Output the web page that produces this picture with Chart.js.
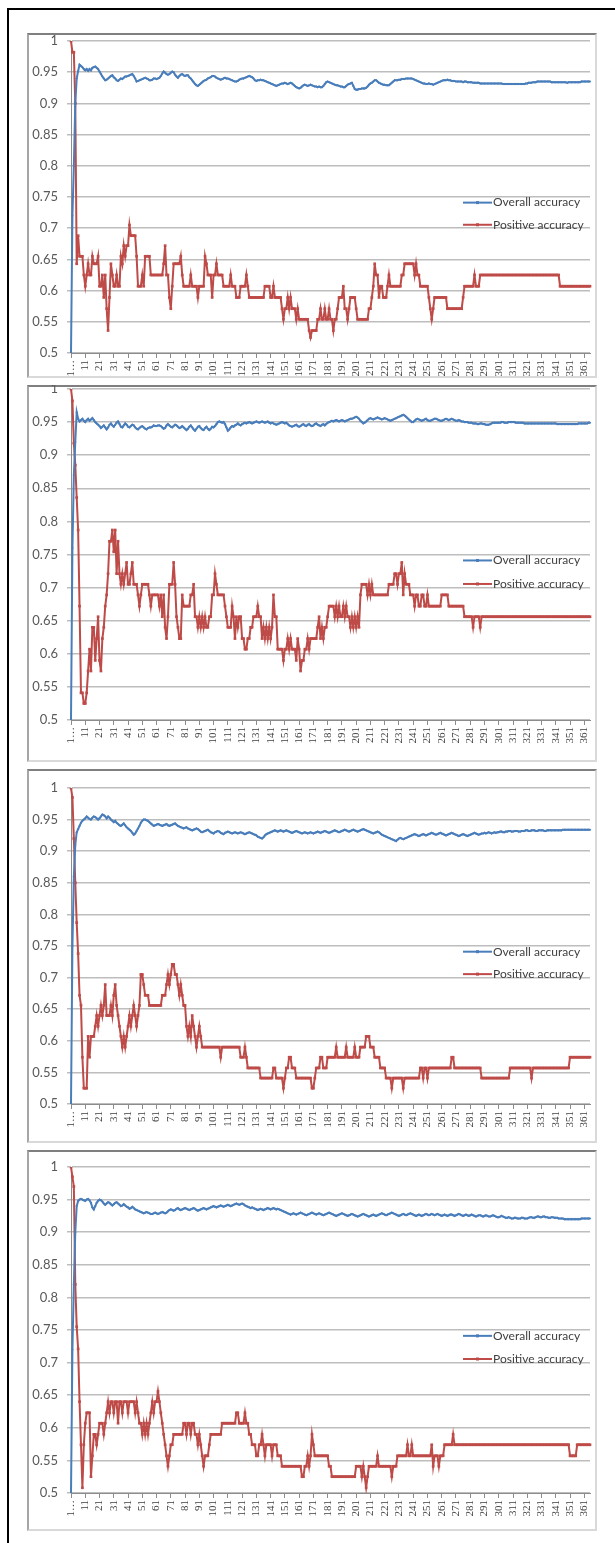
<!DOCTYPE html>
<html>
<head>
<meta charset="utf-8">
<script src="https://cdn.jsdelivr.net/npm/chart.js@4.4.1/dist/chart.umd.min.js"></script>
<style>
  html, body { margin: 0; padding: 0; background: #fff; }
  body { width: 615px; height: 1543px; position: relative; overflow: hidden; }
  .frame { position: absolute; left: 7px; top: 8px; width: 620px; height: 1560px;
           border-top: 2px solid #000; border-left: 2px solid #000; }
  .panel { position: absolute; left: 27px; width: 570px; box-sizing: border-box;
           border: 2px solid #d9d9d9; border-top-color: #7f7f7f; border-left-color: #a6a6a6; background: #fff; }
  .panel canvas { display: block; position: absolute; left: 0; top: -2px; }
</style>
</head>
<body>
<div class="frame"></div>
<div class="panel" id="p1"><canvas id="c1"></canvas></div>
<div class="panel" id="p2"><canvas id="c2"></canvas></div>
<div class="panel" id="p3"><canvas id="c3"></canvas></div>
<div class="panel" id="p4"><canvas id="c4"></canvas></div>
<script>
// x categories: 1..365, the first one shows truncated like in the original
const categories = Array.from({length: 365}, (_, i) => i === 0 ? '1…' : String(i + 1));
const yTickValues = [0.5, 0.55, 0.6, 0.65, 0.7, 0.75, 0.8, 0.85, 0.9, 0.95, 1];
const seriesNames = ['Overall accuracy', 'Positive accuracy'];

const overall1 = [
.5,.72,.8,.9,.94,.952,.962,.96,.958,.955,
.953,.955,.952,.955,.953,.957,.958,.959,.957,.955,
.951,.947,.943,.94,.937,.938,.94,.942,.944,.945,
.942,.94,.937,.936,.938,.94,.939,.941,.943,.943,
.944,.945,.946,.947,.944,.94,.935,.936,.937,.938,
.939,.94,.941,.94,.939,.937,.937,.938,.94,.94,
.939,.94,.941,.944,.948,.951,.949,.947,.946,.947,
.949,.951,.95,.946,.943,.941,.944,.946,.947,.945,
.944,.945,.945,.942,.94,.937,.934,.931,.929,.928,
.93,.932,.934,.936,.937,.938,.94,.941,.942,.944,
.944,.943,.941,.94,.939,.938,.939,.94,.941,.94,
.94,.939,.938,.937,.936,.935,.935,.936,.938,.939,
.94,.94,.941,.942,.943,.944,.943,.942,.94,.937,
.936,.937,.937,.938,.937,.937,.936,.935,.934,.933,
.932,.931,.93,.929,.928,.929,.93,.931,.932,.932,
.933,.932,.931,.932,.933,.932,.93,.928,.926,.925,
.924,.925,.927,.929,.93,.929,.928,.929,.93,.929,
.928,.927,.927,.926,.927,.926,.926,.928,.931,.934,
.935,.934,.933,.932,.931,.93,.929,.929,.928,.927,
.927,.926,.926,.928,.93,.931,.932,.933,.928,.923,
.922,.922,.923,.923,.924,.924,.924,.925,.927,.93,
.932,.933,.935,.937,.937,.935,.933,.932,.931,.93,
.93,.929,.929,.929,.931,.933,.935,.937,.937,.937,
.938,.938,.939,.939,.939,.94,.94,.94,.94,.94,
.939,.938,.937,.936,.935,.934,.933,.932,.932,.931,
.931,.932,.931,.931,.93,.931,.932,.933,.934,.935,
.936,.937,.937,.937,.938,.937,.937,.936,.936,.936,
.935,.935,.935,.935,.935,.934,.935,.935,.934,.934,
.934,.934,.933,.933,.933,.933,.933,.932,.932,.932,
.932,.932,.932,.932,.932,.932,.932,.932,.932,.932,
.932,.932,.932,.931,.931,.931,.931,.931,.931,.931,
.931,.931,.931,.931,.931,.931,.931,.931,.931,.932,
.932,.933,.933,.933,.934,.934,.934,.935,.935,.935,
.935,.935,.935,.935,.935,.935,.935,.934,.934,.934,
.934,.934,.934,.934,.934,.934,.934,.934,.933,.934,
.934,.934,.934,.934,.934,.934,.934,.934,.935,.935,
.935,.935,.935,.935,.935];
const positive1 = [
1,.982,.982,.9,.643,.688,.655,.655,.655,.625,
.607,.625,.643,.625,.625,.655,.643,.643,.643,.655,
.607,.607,.625,.589,.625,.571,.536,.589,.643,.625,
.607,.607,.625,.607,.607,.655,.643,.672,.655,.672,
.672,.705,.688,.688,.688,.688,.655,.607,.607,.607,
.625,.607,.655,.655,.655,.655,.625,.625,.625,.625,
.625,.625,.625,.625,.625,.643,.672,.625,.625,.589,
.571,.607,.643,.643,.643,.643,.643,.655,.625,.607,
.607,.607,.607,.607,.625,.607,.607,.607,.607,.589,
.607,.607,.607,.607,.655,.643,.625,.625,.625,.589,
.625,.625,.643,.625,.625,.625,.625,.607,.607,.607,
.607,.607,.625,.607,.607,.607,.589,.589,.589,.607,
.607,.607,.607,.625,.607,.589,.589,.589,.589,.589,
.589,.589,.589,.589,.589,.589,.607,.607,.607,.607,
.589,.589,.607,.589,.589,.589,.589,.589,.571,.554,
.571,.571,.589,.571,.589,.571,.571,.571,.554,.571,
.554,.554,.554,.554,.554,.554,.554,.536,.525,.536,
.536,.536,.536,.554,.554,.571,.554,.554,.571,.554,
.554,.571,.554,.554,.536,.554,.554,.571,.589,.589,
.589,.607,.571,.571,.554,.571,.589,.589,.589,.589,
.571,.554,.554,.554,.554,.554,.554,.554,.554,.571,
.571,.589,.607,.643,.625,.625,.589,.607,.607,.589,
.589,.589,.607,.625,.607,.607,.607,.607,.607,.607,
.607,.607,.625,.625,.643,.643,.643,.643,.643,.643,
.643,.625,.643,.625,.625,.607,.607,.607,.607,.607,
.607,.589,.571,.554,.571,.589,.589,.589,.589,.589,
.589,.589,.589,.589,.571,.571,.571,.571,.571,.571,
.571,.571,.571,.571,.571,.589,.607,.607,.607,.607,
.607,.607,.607,.625,.607,.607,.607,.625,.625,.625,
.625,.625,.625,.625,.625,.625,.625,.625,.625,.625,
.625,.625,.625,.625,.625,.625,.625,.625,.625,.625,
.625,.625,.625,.625,.625,.625,.625,.625,.625,.625,
.625,.625,.625,.625,.625,.625,.625,.625,.625,.625,
.625,.625,.625,.625,.625,.625,.625,.625,.625,.625,
.625,.625,.625,.607,.607,.607,.607,.607,.607,.607,
.607,.607,.607,.607,.607,.607,.607,.607,.607,.607,
.607,.607,.607,.607,.607];

const overall2 = [
.5,.76,.87,.92,.965,.955,.951,.953,.955,.952,
.95,.953,.955,.952,.954,.956,.953,.95,.948,.946,
.944,.941,.943,.945,.942,.939,.942,.946,.948,.945,
.943,.946,.949,.951,.947,.943,.942,.945,.948,.946,
.943,.942,.944,.946,.945,.942,.94,.939,.941,.943,
.944,.942,.94,.939,.941,.942,.942,.943,.945,.944,
.944,.945,.945,.944,.942,.94,.941,.945,.947,.945,
.943,.942,.944,.946,.945,.943,.941,.942,.944,.942,
.94,.938,.94,.943,.945,.942,.939,.937,.94,.943,
.944,.941,.939,.938,.941,.943,.94,.938,.94,.943,
.942,.944,.947,.95,.951,.95,.949,.95,.947,.942,
.937,.939,.942,.944,.943,.945,.946,.948,.946,.945,
.947,.948,.949,.948,.949,.95,.949,.948,.949,.95,
.951,.95,.949,.95,.951,.95,.949,.95,.951,.949,
.948,.949,.948,.947,.946,.947,.948,.949,.95,.949,
.948,.949,.947,.945,.944,.943,.944,.945,.946,.944,
.943,.944,.946,.947,.945,.944,.946,.947,.945,.944,
.945,.947,.948,.946,.945,.944,.946,.947,.945,.947,
.949,.95,.951,.952,.951,.952,.953,.952,.951,.952,
.953,.952,.951,.952,.953,.954,.955,.955,.956,.957,
.958,.957,.955,.952,.95,.948,.949,.951,.953,.955,
.956,.955,.954,.955,.956,.957,.956,.955,.954,.955,
.956,.955,.954,.953,.952,.953,.954,.955,.956,.957,
.958,.959,.96,.961,.96,.958,.956,.954,.952,.95,
.95,.952,.954,.955,.954,.953,.952,.953,.954,.955,
.953,.952,.952,.953,.954,.955,.955,.954,.953,.952,
.952,.953,.954,.955,.954,.953,.954,.955,.954,.953,
.952,.952,.953,.952,.951,.951,.95,.95,.95,.949,
.949,.949,.948,.948,.948,.947,.947,.948,.948,.947,
.947,.946,.946,.946,.947,.948,.949,.949,.949,.949,
.949,.949,.95,.95,.949,.949,.949,.95,.95,.95,
.95,.95,.949,.949,.949,.949,.949,.949,.948,.948,
.948,.948,.948,.948,.948,.948,.948,.948,.948,.948,
.948,.948,.948,.948,.948,.948,.948,.948,.948,.948,
.948,.947,.947,.947,.947,.947,.947,.947,.947,.947,
.947,.947,.947,.947,.947,.947,.948,.948,.948,.948,
.948,.948,.948,.949,.949];
const positive2 = [
1,.982,.918,.885,.836,.787,.672,.541,.541,.525,
.525,.541,.574,.607,.574,.64,.64,.59,.623,.656,
.59,.574,.623,.64,.672,.689,.721,.77,.77,.787,
.754,.787,.721,.77,.721,.705,.721,.705,.721,.738,
.705,.705,.721,.738,.705,.705,.705,.689,.672,.689,
.705,.705,.705,.705,.705,.689,.672,.689,.689,.689,
.689,.689,.672,.689,.656,.689,.64,.623,.656,.705,
.705,.705,.738,.705,.656,.64,.623,.623,.689,.672,
.672,.672,.672,.672,.689,.689,.705,.656,.656,.64,
.656,.64,.656,.64,.656,.64,.64,.656,.656,.689,
.689,.721,.705,.689,.689,.689,.689,.689,.672,.656,
.64,.64,.64,.672,.656,.623,.656,.64,.656,.656,
.623,.623,.607,.607,.623,.623,.64,.64,.656,.656,
.656,.672,.656,.656,.623,.64,.623,.64,.623,.64,
.623,.64,.689,.656,.656,.607,.607,.607,.607,.59,
.607,.607,.623,.607,.623,.607,.607,.607,.59,.623,
.607,.574,.59,.59,.607,.607,.623,.607,.623,.623,
.623,.623,.623,.64,.656,.623,.64,.623,.64,.64,
.656,.672,.672,.672,.672,.656,.672,.656,.672,.656,
.656,.672,.656,.672,.656,.656,.64,.656,.64,.656,
.64,.656,.64,.689,.705,.705,.705,.705,.689,.705,
.689,.705,.689,.689,.689,.689,.689,.689,.689,.689,
.689,.689,.689,.705,.705,.705,.705,.721,.721,.705,
.721,.721,.738,.689,.721,.705,.705,.705,.689,.689,
.689,.672,.689,.689,.672,.672,.689,.689,.672,.672,
.689,.672,.672,.672,.672,.672,.672,.672,.672,.672,
.689,.689,.689,.689,.689,.672,.672,.672,.672,.672,
.672,.672,.672,.672,.672,.672,.656,.656,.656,.656,
.656,.656,.64,.656,.656,.656,.656,.64,.656,.656,
.656,.656,.656,.656,.656,.656,.656,.656,.656,.656,
.656,.656,.656,.656,.656,.656,.656,.656,.656,.656,
.656,.656,.656,.656,.656,.656,.656,.656,.656,.656,
.656,.656,.656,.656,.656,.656,.656,.656,.656,.656,
.656,.656,.656,.656,.656,.656,.656,.656,.656,.656,
.656,.656,.656,.656,.656,.656,.656,.656,.656,.656,
.656,.656,.656,.656,.656,.656,.656,.656,.656,.656,
.656,.656,.656,.656,.656];

const overall3 = [
.5,.75,.86,.91,.93,.935,.94,.945,.948,.95,
.952,.955,.953,.951,.95,.953,.955,.954,.952,.95,
.952,.955,.958,.957,.955,.952,.955,.953,.95,.948,
.946,.948,.945,.943,.941,.94,.942,.944,.941,.938,
.936,.934,.932,.929,.926,.928,.932,.936,.94,.945,
.948,.95,.95,.949,.948,.946,.944,.942,.94,.941,
.942,.943,.942,.941,.94,.941,.942,.943,.941,.94,
.941,.942,.943,.944,.942,.94,.939,.938,.937,.936,
.937,.938,.936,.935,.934,.933,.934,.935,.936,.935,
.933,.931,.93,.931,.932,.933,.934,.932,.93,.929,
.928,.93,.931,.932,.931,.929,.928,.927,.929,.93,
.931,.93,.929,.928,.929,.93,.929,.928,.929,.93,
.929,.928,.927,.928,.929,.93,.929,.928,.927,.926,
.925,.923,.922,.921,.92,.922,.925,.927,.928,.929,
.93,.931,.932,.933,.932,.931,.932,.933,.932,.931,
.932,.933,.932,.931,.93,.929,.93,.931,.932,.931,
.93,.929,.928,.929,.93,.929,.928,.929,.93,.929,
.928,.929,.93,.931,.93,.929,.93,.931,.932,.931,
.93,.929,.93,.931,.932,.933,.932,.931,.93,.931,
.932,.933,.934,.933,.932,.931,.932,.933,.934,.933,
.932,.931,.932,.933,.934,.935,.934,.933,.932,.931,
.93,.929,.928,.929,.93,.931,.93,.928,.926,.925,
.924,.923,.922,.921,.92,.919,.918,.917,.916,.918,
.92,.921,.92,.919,.92,.921,.922,.923,.924,.925,
.926,.927,.926,.925,.924,.925,.926,.927,.926,.925,
.926,.927,.928,.929,.928,.927,.926,.927,.928,.929,
.928,.927,.926,.925,.926,.927,.928,.929,.928,.927,
.926,.925,.924,.925,.926,.927,.926,.925,.924,.925,
.926,.927,.928,.929,.928,.927,.926,.927,.928,.928,
.929,.928,.929,.93,.929,.928,.929,.93,.929,.93,
.93,.931,.931,.93,.93,.931,.931,.932,.932,.931,
.931,.932,.932,.932,.931,.931,.932,.932,.932,.933,
.933,.932,.932,.933,.933,.933,.932,.932,.933,.933,
.933,.933,.932,.932,.933,.933,.933,.933,.933,.933,
.933,.933,.933,.933,.933,.934,.934,.934,.934,.934,
.934,.934,.934,.934,.934,.934,.934,.934,.934,.934,
.934,.934,.934,.934,.934];
const positive3 = [
1,.985,.92,.85,.787,.738,.672,.656,.574,.525,
.525,.525,.607,.574,.607,.607,.607,.623,.64,.623,
.64,.656,.64,.656,.689,.64,.64,.64,.656,.64,
.672,.689,.656,.64,.623,.607,.59,.607,.59,.607,
.623,.64,.623,.64,.656,.64,.623,.64,.656,.705,
.705,.689,.672,.672,.672,.656,.656,.656,.656,.656,
.656,.656,.656,.656,.672,.672,.672,.689,.705,.689,
.705,.721,.721,.705,.705,.689,.672,.689,.672,.656,
.656,.623,.607,.623,.607,.64,.623,.607,.59,.607,
.623,.607,.59,.59,.59,.59,.59,.59,.59,.59,
.59,.59,.59,.59,.59,.574,.59,.59,.59,.59,
.59,.59,.59,.59,.59,.59,.59,.59,.59,.574,
.574,.574,.59,.574,.557,.557,.557,.557,.557,.557,
.557,.557,.557,.541,.541,.541,.541,.541,.541,.541,
.541,.541,.557,.557,.541,.541,.541,.541,.541,.525,
.541,.557,.557,.574,.574,.557,.557,.557,.541,.541,
.541,.541,.541,.541,.541,.541,.541,.541,.541,.525,
.525,.541,.557,.557,.557,.574,.574,.557,.557,.557,
.574,.574,.574,.574,.574,.574,.59,.574,.574,.574,
.574,.574,.574,.59,.574,.574,.574,.574,.574,.59,
.574,.574,.574,.59,.59,.59,.59,.607,.607,.607,
.59,.59,.59,.574,.574,.574,.574,.557,.557,.557,
.557,.541,.541,.541,.541,.525,.541,.541,.541,.541,
.541,.541,.541,.525,.541,.541,.541,.541,.541,.541,
.541,.541,.541,.541,.541,.557,.557,.541,.557,.557,
.541,.557,.557,.557,.557,.557,.557,.557,.557,.557,
.557,.557,.557,.557,.557,.557,.557,.574,.574,.557,
.557,.557,.557,.557,.557,.557,.557,.557,.557,.557,
.557,.557,.557,.557,.557,.557,.557,.557,.541,.541,
.541,.541,.541,.541,.541,.541,.541,.541,.541,.541,
.541,.541,.541,.541,.541,.541,.541,.541,.557,.557,
.557,.557,.557,.557,.557,.557,.557,.557,.557,.557,
.557,.557,.557,.541,.557,.557,.557,.557,.557,.557,
.557,.557,.557,.557,.557,.557,.557,.557,.557,.557,
.557,.557,.557,.557,.557,.557,.557,.557,.557,.557,
.574,.574,.574,.574,.574,.574,.574,.574,.574,.574,
.574,.574,.574,.574,.574];

const overall4 = [
.5,.72,.82,.9,.94,.948,.95,.951,.95,.949,
.948,.95,.951,.949,.945,.938,.935,.94,.945,.948,
.95,.949,.947,.944,.942,.944,.946,.945,.943,.941,
.943,.945,.946,.944,.942,.94,.941,.943,.941,.939,
.938,.936,.937,.939,.937,.935,.934,.933,.932,.931,
.93,.929,.93,.931,.93,.929,.928,.928,.929,.93,
.929,.928,.929,.93,.931,.93,.929,.93,.932,.934,
.935,.934,.933,.934,.936,.937,.935,.934,.935,.936,
.937,.936,.935,.934,.935,.936,.937,.936,.934,.933,
.934,.935,.936,.937,.936,.935,.936,.937,.938,.939,
.94,.939,.938,.939,.94,.941,.94,.939,.94,.941,
.942,.941,.94,.941,.942,.943,.944,.943,.942,.943,
.944,.943,.941,.94,.939,.938,.937,.938,.937,.936,
.935,.934,.935,.936,.935,.934,.935,.936,.937,.936,
.935,.936,.937,.936,.935,.936,.935,.934,.933,.932,
.931,.93,.929,.928,.927,.928,.929,.928,.927,.928,
.929,.93,.929,.928,.927,.926,.927,.928,.929,.93,
.929,.928,.927,.928,.929,.928,.927,.926,.927,.928,
.929,.93,.929,.928,.927,.926,.925,.926,.927,.928,
.929,.928,.927,.926,.925,.926,.927,.928,.927,.926,
.925,.924,.925,.926,.927,.928,.927,.926,.925,.924,
.925,.926,.927,.926,.925,.926,.927,.928,.929,.928,
.927,.926,.927,.928,.929,.93,.929,.928,.927,.926,
.925,.926,.927,.928,.927,.926,.927,.928,.929,.928,
.927,.926,.925,.926,.927,.926,.925,.926,.927,.928,
.927,.926,.927,.928,.927,.926,.927,.928,.927,.926,
.925,.926,.927,.926,.925,.926,.927,.927,.926,.925,
.926,.927,.928,.927,.926,.925,.926,.927,.926,.925,
.926,.927,.926,.925,.924,.925,.926,.926,.925,.924,
.925,.926,.925,.924,.924,.925,.926,.925,.924,.923,
.923,.924,.925,.924,.923,.922,.922,.923,.922,.921,
.921,.922,.922,.921,.921,.921,.922,.922,.921,.921,
.921,.922,.923,.923,.922,.922,.923,.924,.924,.923,
.923,.924,.924,.923,.923,.922,.922,.923,.923,.922,
.922,.922,.921,.921,.921,.921,.92,.92,.92,.92,
.92,.92,.92,.92,.92,.92,.92,.92,.921,.921,
.921,.921,.921,.921,.921];
const positive4 = [
1,.985,.97,.82,.755,.721,.64,.574,.508,.574,
.607,.623,.623,.623,.525,.557,.59,.59,.574,.59,
.607,.607,.607,.59,.607,.623,.64,.623,.64,.64,
.623,.64,.64,.607,.64,.64,.623,.64,.64,.64,
.623,.64,.64,.64,.64,.623,.64,.623,.607,.607,
.59,.607,.59,.607,.59,.607,.623,.64,.623,.64,
.64,.656,.64,.623,.607,.59,.574,.557,.541,.557,
.574,.574,.59,.59,.59,.59,.59,.59,.59,.607,
.607,.59,.607,.607,.59,.607,.607,.59,.59,.574,
.59,.574,.557,.541,.557,.557,.557,.574,.59,.59,
.59,.59,.59,.59,.59,.59,.607,.607,.607,.607,
.607,.607,.607,.607,.607,.607,.623,.623,.607,.607,
.607,.607,.623,.607,.607,.59,.59,.574,.574,.574,
.557,.557,.574,.574,.59,.574,.557,.574,.574,.574,
.574,.557,.574,.574,.574,.557,.557,.557,.541,.541,
.541,.541,.541,.541,.541,.541,.541,.541,.541,.541,
.541,.541,.525,.525,.541,.541,.557,.541,.557,.59,
.574,.557,.557,.557,.557,.557,.557,.557,.557,.557,
.557,.541,.541,.525,.525,.525,.525,.525,.525,.525,
.525,.525,.525,.525,.525,.525,.525,.525,.525,.525,
.541,.541,.541,.541,.525,.541,.525,.508,.525,.541,
.541,.541,.541,.541,.541,.557,.541,.541,.541,.541,
.541,.541,.541,.541,.541,.525,.541,.541,.541,.557,
.557,.557,.557,.557,.557,.557,.574,.557,.557,.574,
.557,.557,.557,.557,.557,.557,.557,.557,.557,.557,
.557,.557,.557,.574,.541,.557,.557,.557,.541,.557,
.557,.557,.574,.574,.574,.574,.574,.574,.59,.574,
.574,.574,.574,.574,.574,.574,.574,.574,.574,.574,
.574,.574,.574,.574,.574,.574,.574,.574,.574,.574,
.574,.574,.574,.574,.574,.574,.574,.574,.574,.574,
.574,.574,.574,.574,.574,.574,.574,.574,.574,.574,
.574,.574,.574,.574,.574,.574,.574,.574,.574,.574,
.574,.574,.574,.574,.574,.574,.574,.574,.574,.574,
.574,.574,.574,.574,.574,.574,.574,.574,.574,.574,
.574,.574,.574,.574,.574,.574,.574,.574,.574,.574,
.557,.557,.557,.557,.557,.574,.574,.574,.574,.574,
.574,.574,.574,.574,.574];

// panel boxes (page px); padTop / axisH place the plot area inside each canvas
const panelLayout = [
  { top: 33,   height: 345, padTop: 8,  axisH: 23 },
  { top: 385,  height: 377, padTop: 4,  axisH: 40 },
  { top: 769,  height: 374, padTop: 19, axisH: 37 },
  { top: 1150, height: 381, padTop: 17, axisH: 36 }
];
const panelSeries = [
  [overall1, positive1],
  [overall2, positive2],
  [overall3, positive3],
  [overall4, positive4]
];

const BLUE = '#4a7ebb';
const RED = '#be4b48';
const legendRows = [0.518, 0.589];

// legend drawn inside the plot, right side, like the Excel original
const insideLegend = {
  id: 'insideLegend',
  afterDraw(chart) {
    const { ctx, chartArea } = chart;
    ctx.save();
    ctx.font = '12px Lato';
    ctx.textBaseline = 'middle';
    chart.data.datasets.forEach((ds, i) => {
      const y = chartArea.top + chartArea.height * legendRows[i];
      const x0 = chartArea.right - 127;
      ctx.strokeStyle = ds.borderColor;
      ctx.lineWidth = 2;
      ctx.beginPath();
      ctx.moveTo(x0, y);
      ctx.lineTo(x0 + 29, y);
      ctx.stroke();
      ctx.fillStyle = ds.borderColor;
      ctx.fillRect(x0 + 13, y - 1.5, 3, 3);
      ctx.fillStyle = '#404040';
      ctx.fillText(ds.label, x0 + 30, y);
    });
    ctx.restore();
  }
};

function makeChart(canvas, overall, positive, lay) {
  return new Chart(canvas, {
    type: 'line',
    data: {
      labels: categories,
      datasets: [
        {
          label: seriesNames[0], data: overall,
          borderColor: BLUE, backgroundColor: BLUE, borderWidth: 2,
          pointStyle: 'rectRot', pointRadius: 1.3, pointBorderWidth: 0,
          pointBackgroundColor: BLUE, tension: 0
        },
        {
          label: seriesNames[1], data: positive,
          borderColor: RED, backgroundColor: RED, borderWidth: 2,
          pointStyle: 'rect', pointRadius: 1.9, pointBorderWidth: 0,
          pointBackgroundColor: RED, tension: 0
        }
      ]
    },
    options: {
      responsive: false,
      animation: false,
      layout: { padding: { left: 0, right: 5, top: lay.padTop, bottom: 0 } },
      plugins: { legend: { display: false }, tooltip: { enabled: false } },
      scales: {
        x: {
          afterBuildTicks: s => { s.ticks = s.ticks.filter(t => t.value % 10 === 0); },
          afterFit: s => { s.height = lay.axisH; s.paddingLeft = 0; s.paddingRight = 0; },
          ticks: {
            autoSkip: false, minRotation: 90, maxRotation: 90, padding: 2,
            color: '#404040', font: { family: 'Liberation Serif', size: 11 }
          },
          grid: { drawOnChartArea: false, tickLength: 5, color: '#8c8c8c' },
          border: { color: '#8c8c8c', width: 1 }
        },
        y: {
          min: 0.5, max: 1,
          afterBuildTicks: s => { s.ticks = yTickValues.map(v => ({ value: v })); },
          afterFit: s => { s.width = 42; s.paddingTop = 0; s.paddingBottom = 0; },
          ticks: {
            callback: v => String(+v.toFixed(2)),
            padding: 9, color: '#595959', font: { family: 'Lato', size: 13 }
          },
          grid: { color: '#bdbdbd', lineWidth: 1.5, tickLength: 4 },
          border: { color: '#8c8c8c' }
        }
      }
    },
    plugins: [insideLegend]
  });
}

panelLayout.forEach((lay, i) => {
  const panel = document.getElementById('p' + (i + 1));
  panel.style.top = lay.top + 'px';
  panel.style.height = lay.height + 'px';
  const canvas = document.getElementById('c' + (i + 1));
  canvas.width = 566;
  canvas.height = lay.height - 2;
  makeChart(canvas, panelSeries[i][0], panelSeries[i][1], lay);
});
</script>
</body>
</html>
